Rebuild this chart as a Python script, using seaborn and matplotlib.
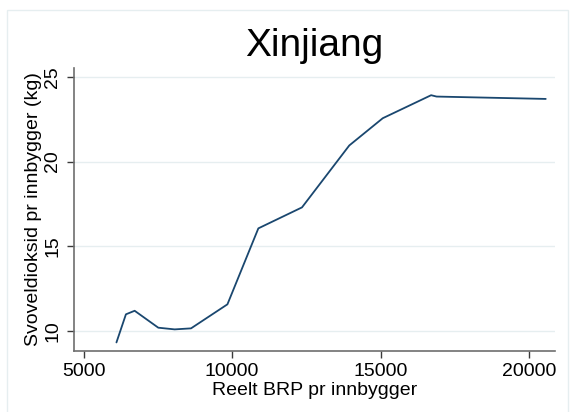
import matplotlib
matplotlib.use("Agg")
import matplotlib.pyplot as plt
from matplotlib.patches import Rectangle
import seaborn as sns
import pandas as pd

# Real GDP per capita and sulphur dioxide emissions per capita, Xinjiang
gdp_per_capita = [6103, 6422, 6716, 7512, 8064, 8615, 9841, 10883,
                  12353, 13946, 15074, 16703, 16887, 20564]
so2_per_capita = [9.31, 10.97, 11.18, 10.18, 10.08, 10.14, 11.56, 16.05,
                  17.29, 20.95, 22.56, 23.92, 23.84, 23.70]

x_ticks = [5000, 10000, 15000, 20000]
y_ticks = [10, 15, 20, 25]

title = "Xinjiang"
x_label = "Reelt BRP pr innbygger"
y_label = "Svoveldioksid pr innbygger (kg)"

df = pd.DataFrame({"gdp": gdp_per_capita, "so2": so2_per_capita})

sns.set_style("white")
plt.rcParams["font.family"] = ["Liberation Sans", "DejaVu Sans"]

W, H = 570, 412
fig = plt.figure(figsize=(W / 100, H / 100), dpi=100)
fig.patch.set_facecolor("white")

# outer graph-region frame
fig.add_artist(Rectangle((7 / W, -0.02), (568 - 7) / W, 1 - 10 / H + 0.02,
                         transform=fig.transFigure, fill=False,
                         edgecolor="#e6eef0", linewidth=1.0))

left, right, top, bottom = 74, 555, 68.3, 350.7
ax = fig.add_axes([left / W, 1 - bottom / H, (right - left) / W, (bottom - top) / H])

sns.lineplot(data=df, x="gdp", y="so2", ax=ax, estimator=None, sort=False,
             color="#1a476f", linewidth=1.3)

ax.set_xlim(4673, 20876)
ax.set_ylim(8.82, 25.51)
ax.set_xticks(x_ticks)
ax.set_yticks(y_ticks)
ax.set_xticklabels([str(v) for v in x_ticks])
ax.set_yticklabels([str(v) for v in y_ticks])

ax.grid(axis="y", color="#e6eef0", linewidth=1.0)
ax.grid(axis="x", visible=False)
ax.set_axisbelow(True)

for side in ("top", "right"):
    ax.spines[side].set_visible(False)
for side in ("left", "bottom"):
    ax.spines[side].set_color("#6e6e6e")
    ax.spines[side].set_linewidth(1.2)

ax.tick_params(axis="both", which="major", direction="out", length=5,
               width=1.0, color="#3a3a3a", labelsize=14, labelcolor="black",
               pad=4, bottom=True, left=True)
ax.tick_params(axis="y", labelrotation=90)
for lbl in ax.get_yticklabels():
    lbl.set_va("center")

ax.set_xlabel(x_label, fontsize=14, labelpad=1, color="black")
ax.set_ylabel(y_label, fontsize=14, labelpad=2, color="black")
ax.set_title(title, fontsize=28, pad=9, color="black")

fig.savefig("out.png", dpi=100)
